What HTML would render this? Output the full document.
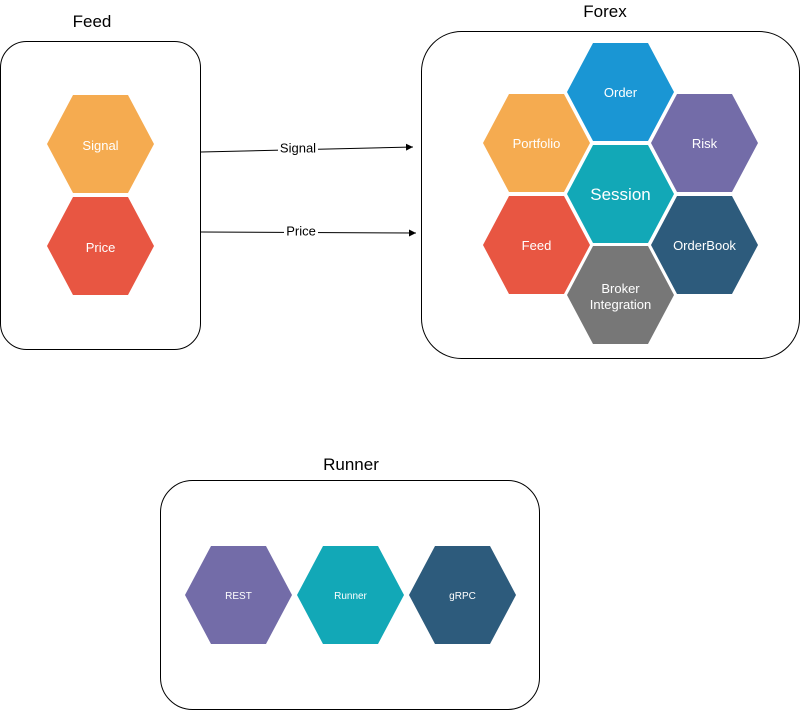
<!DOCTYPE html>
<html><head><meta charset="utf-8"><style>
body{margin:0;background:#fff;width:801px;height:711px;overflow:hidden}
text{font-family:"Liberation Sans",Arial,sans-serif}
</style></head><body>
<svg width="801" height="711" viewBox="0 0 801 711">
<defs>
<polygon id="hx" points="0,49 26,0 81,0 107,49 81,98 26,98"/>
<marker id="ah" markerWidth="8" markerHeight="8" refX="7" refY="4" orient="auto"><path d="M0,0.5 L7,4 L0,7.5 z" fill="#000"/></marker>
</defs>
<g>
<text x="92" y="27" font-size="17" text-anchor="middle">Feed</text>
<rect x="0.5" y="41.5" width="200" height="308" rx="26" fill="#fff" stroke="#000"/>
<g><use href="#hx" x="47" y="95" fill="#F5AB50"/><text x="100.5" y="150" font-size="13" fill="#fff" text-anchor="middle">Signal</text></g>
<g><use href="#hx" x="47" y="197" fill="#E85642"/><text x="100.5" y="252" font-size="13" fill="#fff" text-anchor="middle">Price</text></g>
</g>
<g>
<line x1="201" y1="152" x2="413" y2="147" stroke="#000" marker-end="url(#ah)"/>
<rect x="278" y="141" width="40" height="14" fill="#fff"/>
<text x="298" y="152.5" font-size="13" text-anchor="middle">Signal</text>
</g>
<g>
<line x1="201" y1="232" x2="416" y2="233" stroke="#000" marker-end="url(#ah)"/>
<rect x="284" y="225" width="34" height="13" fill="#fff"/>
<text x="301" y="235.5" font-size="13" text-anchor="middle">Price</text>
</g>
<g>
<text x="605" y="17" font-size="17" text-anchor="middle">Forex</text>
<rect x="421.5" y="31.5" width="378" height="327" rx="40" fill="#fff" stroke="#000"/>
<g><use href="#hx" x="567" y="43" fill="#1A96D4"/><text x="620.5" y="97" font-size="13" fill="#fff" text-anchor="middle">Order</text></g>
<g><use href="#hx" x="483" y="94" fill="#F5AB50"/><text x="536.5" y="148" font-size="13" fill="#fff" text-anchor="middle">Portfolio</text></g>
<g><use href="#hx" x="651" y="94" fill="#736CA8"/><text x="704.5" y="148" font-size="13" fill="#fff" text-anchor="middle">Risk</text></g>
<g><use href="#hx" x="567" y="145" fill="#12A8B7"/><text x="620.5" y="200" font-size="17" fill="#fff" text-anchor="middle">Session</text></g>
<g><use href="#hx" x="483" y="196" fill="#E85642"/><text x="536.5" y="250" font-size="13" fill="#fff" text-anchor="middle">Feed</text></g>
<g><use href="#hx" x="651" y="196" fill="#2D5B7C"/><text x="704.5" y="250" font-size="13" fill="#fff" text-anchor="middle">OrderBook</text></g>
<g><use href="#hx" x="567" y="246" fill="#777777"/><text x="620.5" y="293" font-size="13" fill="#fff" text-anchor="middle">Broker</text><text x="620.5" y="309" font-size="13" fill="#fff" text-anchor="middle">Integration</text></g>
</g>
<g>
<text x="351" y="470" font-size="17" text-anchor="middle">Runner</text>
<rect x="160.5" y="480.5" width="379" height="229" rx="32" fill="#fff" stroke="#000"/>
<g><use href="#hx" x="185" y="546" fill="#736CA8"/><text x="238.5" y="599" font-size="10" fill="#fff" text-anchor="middle">REST</text></g>
<g><use href="#hx" x="297" y="546" fill="#12A8B7"/><text x="350.5" y="599" font-size="10" fill="#fff" text-anchor="middle">Runner</text></g>
<g><use href="#hx" x="409" y="546" fill="#2D5B7C"/><text x="462.5" y="599" font-size="10" fill="#fff" text-anchor="middle">gRPC</text></g>
</g>
</svg>
</body></html>
